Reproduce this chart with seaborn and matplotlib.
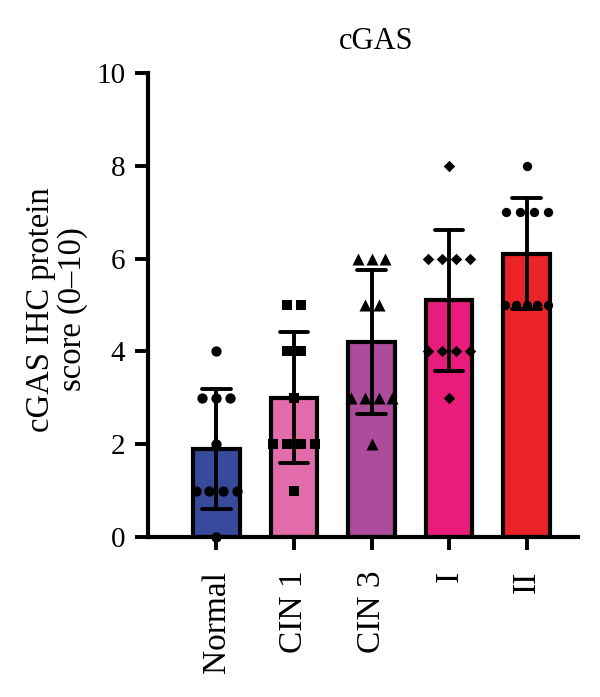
import numpy as np
import pandas as pd
import matplotlib
matplotlib.use("Agg")
import matplotlib.pyplot as plt
import seaborn as sns

# group names and individual scores
groups = ["Normal", "CIN 1", "CIN 3", "I", "II"]
normal = [4, 3, 3, 3, 2, 1, 1, 1, 1, 0]
cin1 = [5, 5, 4, 4, 3, 2, 2, 2, 2, 1]
cin3 = [6, 6, 6, 5, 5, 3, 3, 3, 3, 2]
stage1 = [8, 6, 6, 6, 6, 4, 4, 4, 4, 3]
stage2 = [8, 7, 7, 7, 7, 5, 5, 5, 5, 5]

colors = ["#384A9C", "#E26CAA", "#AE4C9C", "#E91C7B", "#EA2328"]
markers = ["o", "s", "^", "D", "o"]
msizes = [55, 42, 75, 34, 45]

values = [normal, cin1, cin3, stage1, stage2]
df = pd.DataFrame({
    "group": np.repeat(groups, [len(v) for v in values]),
    "score": np.concatenate(values),
})

sns.set_style("ticks")
plt.rcParams["font.family"] = ["Liberation Serif", "DejaVu Serif"]
plt.rcParams["text.color"] = "black"
plt.rcParams["axes.labelcolor"] = "black"
plt.rcParams["xtick.color"] = "black"
plt.rcParams["ytick.color"] = "black"

fig = plt.figure(figsize=(6, 6.97), dpi=100)
ax = fig.add_axes([0.247, 0.2296, 0.716, 0.6657])

sns.barplot(data=df, x="group", y="score", order=groups, hue="group",
            palette=colors, saturation=1, legend=False, errorbar="sd",
            capsize=0.37, width=0.6, edgecolor="black", linewidth=3.0,
            err_kws={"color": "black", "linewidth": 2.8}, ax=ax)


def spread(vals, step=0.18, maxw=0.56):
    vals = np.asarray(vals)
    offs = np.zeros(len(vals))
    for v in np.unique(vals):
        idx = np.where(vals == v)[0]
        k = len(idx)
        s = step if k < 2 else min(step, maxw / (k - 1))
        offs[idx] = (np.arange(k) - (k - 1) / 2) * s
    return offs


for i, (vals, mk, ms) in enumerate(zip(values, markers, msizes)):
    xs = i + spread(vals)
    ax.scatter(xs, vals, marker=mk, s=ms, color="black", zorder=5,
               linewidths=0, clip_on=False)

ax.set_xlim(-0.88, 4.66)
ax.set_ylim(0, 10)
ax.set_yticks([0, 2, 4, 6, 8, 10])
ax.set_xlabel("")
ax.set_ylabel("cGAS IHC protein\nscore (0–10)", fontsize=23.5, linespacing=1.05)
ax.yaxis.set_label_coords(-0.14, 0.49)
ax.set_title("cGAS", fontsize=22, pad=17, x=0.53)

ax.tick_params(axis="both", width=2.8, length=9.5, color="black")
ax.tick_params(axis="y", labelsize=21, pad=7)
ax.tick_params(axis="x", labelsize=24, pad=15)
for lab in ax.get_xticklabels():
    lab.set_rotation(90)
    lab.set_va("top")
    lab.set_ha("center")

sns.despine(ax=ax)
for side in ["left", "bottom"]:
    ax.spines[side].set_linewidth(3.0)
    ax.spines[side].set_color("black")

fig.savefig("out.png", dpi=100)
